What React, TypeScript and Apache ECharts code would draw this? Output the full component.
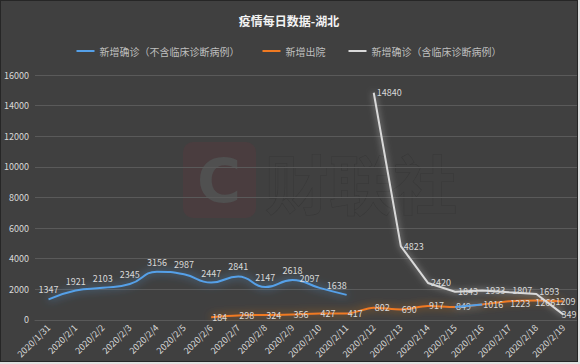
import React, { useEffect, useRef } from "react";
import * as echarts from "echarts";

const categories = [
  "2020/1/31", "2020/2/1", "2020/2/2", "2020/2/3", "2020/2/4", "2020/2/5", "2020/2/6",
  "2020/2/7", "2020/2/8", "2020/2/9", "2020/2/10", "2020/2/11", "2020/2/12", "2020/2/13",
  "2020/2/14", "2020/2/15", "2020/2/16", "2020/2/17", "2020/2/18", "2020/2/19",
];
const confirmedExcl: (number | null)[] = [
  1347, 1921, 2103, 2345, 3156, 2987, 2447, 2841, 2147, 2618, 2097, 1638,
  null, null, null, 849, 1016, null, null, null,
];
const discharged: (number | null)[] = [
  null, null, null, null, null, null, 184, 298, 324, 356, 427, 417, 802, 690,
  917, 849, 1016, 1223, 1266, 1209,
];
const confirmedIncl: (number | null)[] = [
  null, null, null, null, null, null, null, null, null, null, null, null,
  14840, 4823, 2420, 1843, 1933, 1807, 1693, 349,
];
const legendNames = ["新增确诊（不含临床诊断病例）", "新增出院", "新增确诊（含临床诊断病例）"];
const titleText = "疫情每日数据-湖北";

const FONT = "'Noto Sans CJK SC', 'Noto Sans', sans-serif";

export default function App() {
  const ref = useRef<HTMLDivElement>(null);
  useEffect(() => {
    document.body.style.margin = "0";
    document.body.style.background = "#e2e2e2";
    if (!ref.current) return;
    const chart = echarts.init(ref.current, undefined, { renderer: "svg" });
    const blueData = confirmedExcl.map((v, i) => {
      if (v === null) return null;
      if (i >= 12) return { value: v, label: { show: false } };
      if (i === 10 || i === 11) return { value: v, label: { offset: [-10, 0] } };
      return v;
    });
    const orangeOffsets: Record<number, number[]> = { 17: [0, 2], 18: [-2, 2], 19: [-9, 0] };
    const orangeData = discharged.map((v, i) =>
      v !== null && orangeOffsets[i] ? { value: v, label: { offset: orangeOffsets[i] } } : v
    );
    const grayOffsets: Record<number, number[]> = { 17: [0, -2], 18: [0, -3], 19: [-5, 0] };
    const grayData = confirmedIncl.map((v, i) =>
      v !== null && grayOffsets[i] ? { value: v, label: { offset: grayOffsets[i] } } : v
    );
    const labelBase = { show: true, color: "#d9d9d9", fontSize: 9, lineHeight: 9, fontFamily: FONT };
    chart.setOption({
      animation: false,
      backgroundColor: "#404040",
      textStyle: { fontFamily: FONT },
      title: {
        text: titleText,
        left: "center",
        top: 8,
        textStyle: { color: "#f2f2f2", fontSize: 12, fontWeight: "bold", fontFamily: FONT },
      },
      legend: {
        top: 40,
        left: "center",
        itemGap: 23,
        itemWidth: 18,
        itemHeight: 2,
        icon: "rect",
        textStyle: { color: "#bfbfbf", fontSize: 10, fontFamily: FONT },
        data: legendNames,
      },
      graphic: [
        {
          type: "rect",
          z: -1,
          shape: { x: 182, y: 141, width: 73, height: 76, r: 10 },
          style: { fill: "rgba(150,40,55,0.12)" },
        },
        {
          type: "text",
          z: -1,
          x: 218,
          y: 180,
          style: {
            text: "C",
            fill: "#505050",
            font: "bold 60px 'DejaVu Sans', sans-serif",
            align: "center",
            verticalAlign: "middle",
          },
        },
        {
          type: "text",
          z: -1,
          x: 264,
          y: 180,
          style: {
            text: "财联社",
            fill: "#404040",
            stroke: "#383838",
            lineWidth: 1,
            font: "bold 64px 'Noto Sans CJK SC', sans-serif",
            align: "left",
            verticalAlign: "middle",
          },
        },
      ],
      grid: { left: 27, right: -3, top: 74, bottom: 38, containLabel: false },
      xAxis: {
        type: "category",
        data: categories,
        boundaryGap: true,
        axisLine: { show: true, lineStyle: { color: "#595959" } },
        axisTick: { show: false },
        axisLabel: { color: "#d9d9d9", fontSize: 9, rotate: 45, interval: 0, margin: 6, fontFamily: FONT },
      },
      yAxis: {
        type: "value",
        min: 0,
        max: 16000,
        interval: 2000,
        axisLine: { show: false },
        axisTick: { show: false },
        axisLabel: {
          color: "#d9d9d9",
          fontSize: 9,
          margin: 6,
          fontFamily: FONT,
          formatter: (v: number) => String(v),
        },
        splitLine: { lineStyle: { color: "#5a5a5a", width: 1 } },
      },
      series: [
        {
          name: legendNames[1],
          type: "line",
          data: orangeData,
          smooth: 0.3,
          showSymbol: true,
          symbol: "circle",
          symbolSize: 0,
          connectNulls: false,
          z: 2,
          lineStyle: { color: "#f07a22", width: 2, shadowColor: "rgba(240,122,34,0.8)", shadowBlur: 8 },
          itemStyle: { color: "#f07a22" },
          label: { ...labelBase, position: "right", distance: 1 },
        },
        {
          name: legendNames[0],
          type: "line",
          data: blueData,
          smooth: true,
          showSymbol: true,
          symbol: "circle",
          symbolSize: 0,
          connectNulls: false,
          z: 3,
          lineStyle: { color: "#55a0e8", width: 2, shadowColor: "rgba(85,160,232,0.8)", shadowBlur: 8 },
          itemStyle: { color: "#55a0e8" },
          label: { ...labelBase, position: "top", distance: 5 },
        },
        {
          name: legendNames[2],
          type: "line",
          data: grayData,
          smooth: false,
          showSymbol: true,
          symbol: "circle",
          symbolSize: 0,
          connectNulls: false,
          z: 4,
          lineStyle: { color: "#d9d9d9", width: 2, shadowColor: "rgba(220,220,220,0.7)", shadowBlur: 6 },
          itemStyle: { color: "#d9d9d9" },
          label: { ...labelBase, position: "right", distance: 3 },
        },
      ],
    });
    return () => chart.dispose();
  }, []);
  return (
    <div style={{ position: "absolute", left: 0, top: 0, border: "1px solid #262626", width: 576, height: 360 }}>
      <div ref={ref} style={{ width: 576, height: 360 }} />
    </div>
  );
}
